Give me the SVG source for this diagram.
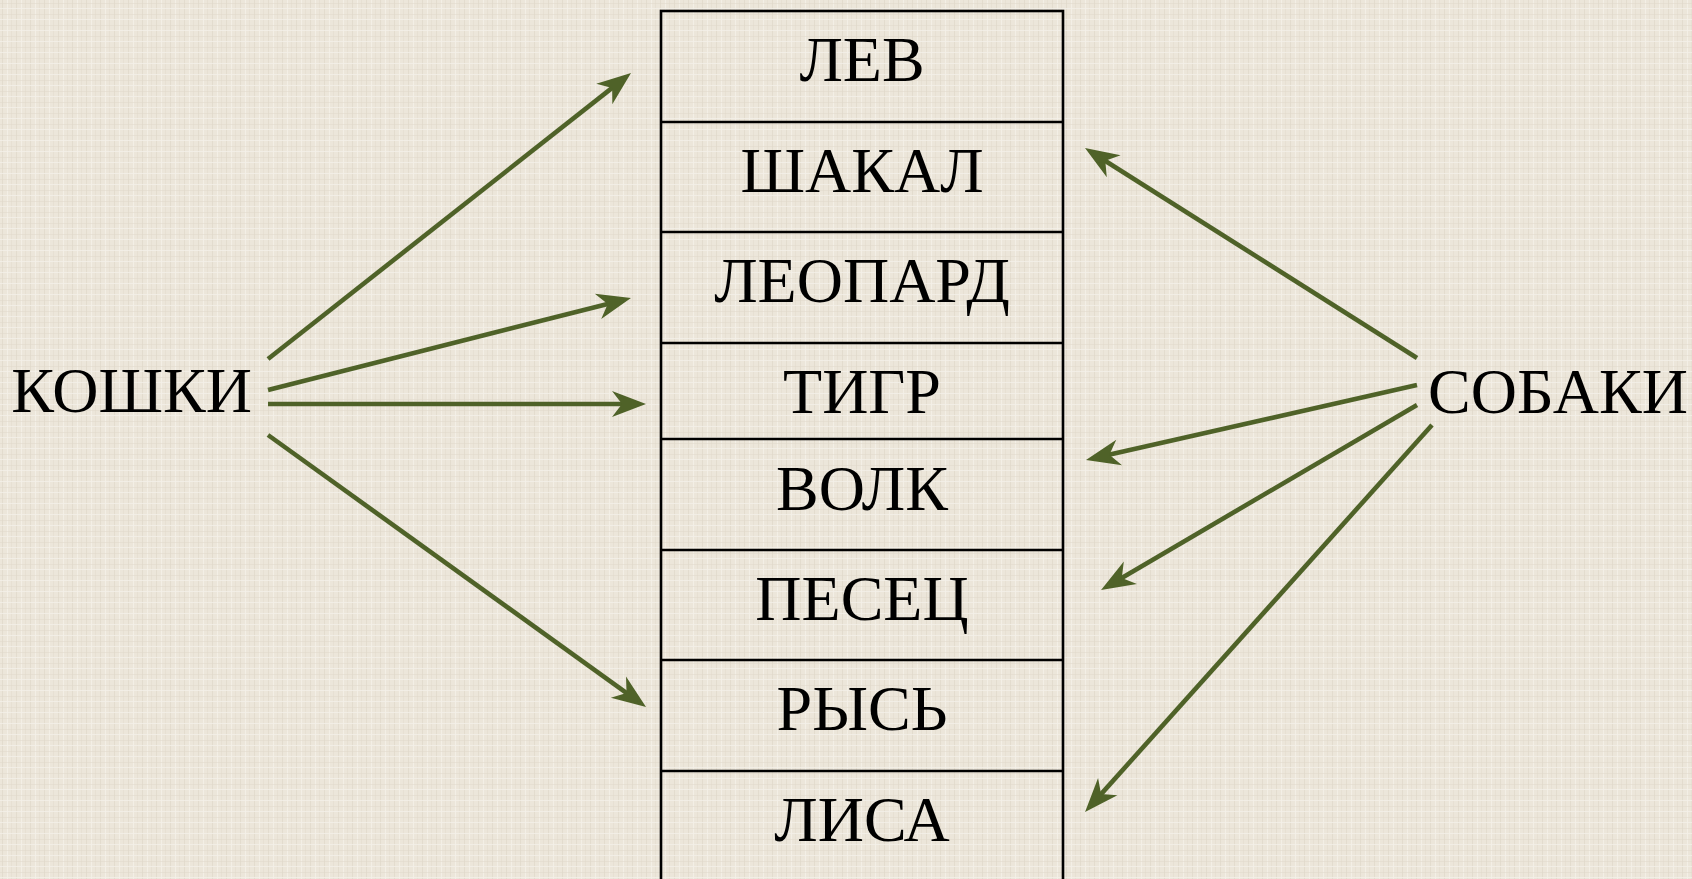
<svg xmlns="http://www.w3.org/2000/svg" width="1692" height="879" viewBox="0 0 1692 879">
<style>
.lbl{font-family:"Liberation Serif","Times New Roman",serif;font-size:64px;fill:#000}
.cell{text-anchor:middle}
.grid{stroke:#000;stroke-width:2.6;fill:none}
.conn{stroke:#4f6228;stroke-width:4.6;fill:none;marker-end:url(#ah)}
</style>
<defs>
<marker id="ah" markerUnits="userSpaceOnUse" viewBox="-15 -14 37 28" refX="0" refY="0" markerWidth="37" markerHeight="28" orient="auto">
<path d="M20,0 L-14,-13 L-4,0 L-14,13 Z" fill="#4f6228"/>
</marker>
<pattern id="linen" width="14" height="11" patternUnits="userSpaceOnUse">
<rect width="14" height="11" fill="#ece6da"/>
<rect x="2" y="0" width="1" height="11" fill="#ddd5c7" opacity="0.6"/>
<rect x="7" y="0" width="1" height="11" fill="#f5f1e9" opacity="0.8"/>
<rect x="11" y="0" width="1" height="11" fill="#e1d9cb" opacity="0.5"/>
<rect x="0" y="3" width="14" height="1" fill="#dfd8ca" opacity="0.5"/>
<rect x="0" y="8" width="14" height="1" fill="#f4f0e8" opacity="0.8"/>
</pattern>
</defs>
<rect width="1692" height="879" fill="url(#linen)"/>

<g id="table">
<rect class="grid" x="661" y="11" width="402" height="880"/>
<line class="grid" x1="661" y1="122" x2="1063" y2="122"/>
<line class="grid" x1="661" y1="232" x2="1063" y2="232"/>
<line class="grid" x1="661" y1="343" x2="1063" y2="343"/>
<line class="grid" x1="661" y1="439" x2="1063" y2="439"/>
<line class="grid" x1="661" y1="550" x2="1063" y2="550"/>
<line class="grid" x1="661" y1="660" x2="1063" y2="660"/>
<line class="grid" x1="661" y1="771" x2="1063" y2="771"/>
</g>
<g id="cell-lev"><text class="lbl cell" x="862" y="81">ЛЕВ</text></g>
<g id="cell-shakal"><text class="lbl cell" x="862" y="192">ШАКАЛ</text></g>
<g id="cell-leopard"><text class="lbl cell" x="862" y="302">ЛЕОПАРД</text></g>
<g id="cell-tigr"><text class="lbl cell" x="862" y="413">ТИГР</text></g>
<g id="cell-volk"><text class="lbl cell" x="862" y="510">ВОЛК</text></g>
<g id="cell-pesets"><text class="lbl cell" x="862" y="620">ПЕСЕЦ</text></g>
<g id="cell-rys"><text class="lbl cell" x="862" y="730">РЫСЬ</text></g>
<g id="cell-lisa"><text class="lbl cell" x="862" y="841">ЛИСА</text></g>

<g id="koshki"><text class="lbl" x="252" y="412" text-anchor="end">КОШКИ</text></g>
<g id="sobaki"><text class="lbl" x="1428" y="413">СОБАКИ</text></g>

<g id="connectors">
<line class="conn" x1="268" y1="359" x2="615.3" y2="85.4"/>
<line class="conn" x1="268" y1="390" x2="611.6" y2="302.9"/>
<line class="conn" x1="268" y1="404" x2="626" y2="404"/>
<line class="conn" x1="268" y1="435" x2="629.8" y2="695.3"/>
<line class="conn" x1="1417" y1="358" x2="1101.9" y2="158.7"/>
<line class="conn" x1="1417" y1="385" x2="1105.5" y2="455.6"/>
<line class="conn" x1="1417" y1="405" x2="1118.3" y2="579.9"/>
<line class="conn" x1="1432" y1="425" x2="1098.4" y2="797.1"/>
</g>
</svg>
